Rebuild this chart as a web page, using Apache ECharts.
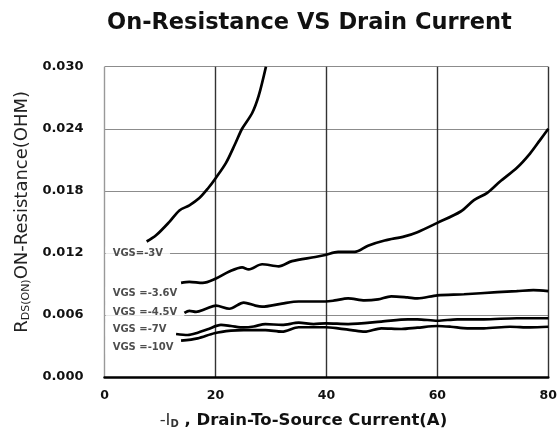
<!DOCTYPE html>
<html>
<head>
<meta charset="utf-8">
<script src="https://cdn.jsdelivr.net/npm/echarts@6/dist/echarts.min.js"></script>
<style>
html,body{margin:0;padding:0;background:#fff;}
#c{width:560px;height:441px;}
</style>
</head>
<body>
<div id="c"></div>
<script>
// ---- data ----
var xTicks = [0, 20, 40, 60, 80];
var yTicks = ['0.000', '0.006', '0.012', '0.018', '0.024', '0.030'];

var id3V  = [7.6, 9.3, 11.7, 13.5, 15.3, 17.1, 18.6, 20.0, 21.9, 23.6, 24.8, 26.6, 27.8, 29.1];
var rds3V = [0.0131, 0.0137, 0.0150, 0.0161, 0.0166, 0.0173, 0.0182, 0.0192, 0.0207, 0.0226, 0.0240, 0.0255, 0.0272, 0.0300];

var id36V  = [13.8, 15.3, 17.7, 20.0, 22.5, 24.8, 26.0, 28.4, 31.4, 33.8, 38.0, 39.8, 42.1, 45.1, 47.5, 50.5, 54.1, 56.4, 60.0, 64.2, 66.6, 69.0, 71.3, 74.3, 76.7, 78.5, 80.0];
var rds36V = [0.0091, 0.0092, 0.0091, 0.0095, 0.0102, 0.0106, 0.0104, 0.0109, 0.0107, 0.0112, 0.0116, 0.0118, 0.0121, 0.0121, 0.0127, 0.0132, 0.0136, 0.0140, 0.0149, 0.0160, 0.0171, 0.0178, 0.0189, 0.0202, 0.0216, 0.0229, 0.0240];

var id45V  = [14.4, 15.3, 16.5, 18.3, 20.1, 22.5, 25.1, 27.2, 28.4, 32.0, 35.0, 39.8, 41.5, 43.9, 46.9, 49.3, 51.7, 54.6, 56.4, 60.0, 64.8, 70.8, 74.3, 77.3, 80.0];
var rds45V = [0.0062, 0.0064, 0.0063, 0.0066, 0.0069, 0.0066, 0.0072, 0.0069, 0.0068, 0.0071, 0.0073, 0.0073, 0.0074, 0.0076, 0.0074, 0.0075, 0.0078, 0.0077, 0.0076, 0.0079, 0.0080, 0.0082, 0.0083, 0.0084, 0.0083];

var id7V  = [12.9, 15.0, 16.8, 18.6, 21.0, 22.8, 25.1, 26.9, 29.0, 32.0, 35.0, 37.7, 39.9, 43.9, 49.9, 54.7, 56.4, 60.0, 63.6, 68.4, 74.3, 80.0];
var rds7V = [0.00416, 0.00406, 0.00428, 0.00461, 0.00503, 0.00493, 0.00479, 0.00488, 0.00512, 0.00503, 0.00525, 0.00512, 0.00519, 0.00512, 0.00535, 0.00558, 0.00558, 0.00544, 0.00558, 0.00558, 0.00568, 0.00568];

var id10V  = [13.8, 16.8, 19.8, 22.8, 25.1, 29.0, 32.0, 35.0, 39.8, 42.1, 44.5, 46.9, 49.9, 53.5, 56.4, 60.0, 62.4, 65.4, 68.4, 73.1, 76.7, 80.0];
var rds10V = [0.00351, 0.00374, 0.00423, 0.00448, 0.00454, 0.00454, 0.00438, 0.00481, 0.00481, 0.00471, 0.00454, 0.00438, 0.00471, 0.00464, 0.00477, 0.00493, 0.00486, 0.00471, 0.00471, 0.00486, 0.00480, 0.00486];

var curveNames = ['VGS=-3V', 'VGS =-3.6V', 'VGS =-4.5V', 'VGS =-7V', 'VGS =-10V'];
var labelX = [0.3, 0.3, 0.3, 0.3, 0.3];
var labelY = [0.0119, 0.0080, 0.0062, 0.00454, 0.00283];

function pairs(xs, ys) { return xs.map(function (x, i) { return [x, ys[i]]; }); }

var curves = [pairs(id3V, rds3V), pairs(id36V, rds36V), pairs(id45V, rds45V), pairs(id7V, rds7V), pairs(id10V, rds10V)];

var FONT = 'DejaVu Sans';
var series = curves.map(function (d, i) {
  return {
    name: curveNames[i], type: 'line', data: d, smooth: 0.3, showSymbol: false, z: 5,
    lineStyle: { color: '#000', width: 2.7 }, silent: true
  };
});
series.push({
  type: 'scatter', z: 3, silent: true, symbolSize: 1,
  itemStyle: { color: 'rgba(0,0,0,0)' },
  data: curveNames.map(function (n, i) { return { value: [labelX[i], labelY[i]], name: n }; }),
  label: {
    show: true, position: [0, 0], align: 'left', verticalAlign: 'middle',
    formatter: function (p) { return p.name; },
    fontFamily: FONT, fontWeight: 'bold', fontSize: 10, color: '#222',
    backgroundColor: '#fff', padding: [2, 7, 2, 7]
  }
});

var chart = echarts.init(document.getElementById('c'), null, { renderer: 'canvas' });
chart.setOption({
  animation: false,
  backgroundColor: '#fff',
  title: {
    text: 'On-Resistance VS Drain Current', left: 102, top: 7,
    textStyle: { fontFamily: FONT, fontWeight: 'bold', fontSize: 22.5, color: '#111' }
  },
  grid: { left: 104.5, right: 8.3, top: 66.7, bottom: 64 },
  xAxis: {
    type: 'value', min: 0, max: 80, interval: 20,
    axisLine: { show: true, lineStyle: { color: '#000', width: 2.5 } },
    axisTick: { show: false },
    splitLine: {
      show: true, showMinLine: true, showMaxLine: true,
      lineStyle: { color: ['#999', '#333', '#333', '#333', '#333'], width: 1.4 }
    },
    axisLabel: {
      margin: 12, fontFamily: FONT, fontWeight: 'bold', fontSize: 12.5, color: '#111',
      formatter: function (v) { return xTicks.indexOf(v) >= 0 ? String(v) : ''; }
    },
    name: '{m|-I}{s|D}{b| , Drain-To-Source Current(A)}',
    nameLocation: 'middle', nameGap: 35,
    nameTextStyle: {
      padding: [0, 46, 0, 0],
      rich: {
        m: { fontFamily: FONT, fontSize: 16.5, color: '#333', verticalAlign: 'bottom' },
        s: { fontFamily: FONT, fontSize: 10, fontWeight: 'bold', color: '#333', verticalAlign: 'bottom' },
        b: { fontFamily: FONT, fontSize: 16.5, fontWeight: 'bold', color: '#111', verticalAlign: 'bottom' }
      }
    }
  },
  yAxis: {
    type: 'value', min: 0, max: 0.030, interval: 0.006,
    axisLine: { show: false },
    axisTick: { show: false },
    splitLine: {
      show: true, showMinLine: true, showMaxLine: true,
      lineStyle: { color: '#8c8c8c', width: 1 }
    },
    axisLabel: {
      margin: 21, fontFamily: FONT, fontWeight: 'bold', fontSize: 13, color: '#111',
      formatter: function (v) { return yTicks[Math.round(v / 0.006)]; }
    },
    name: '{m|R}{s|DS(ON)}{m|ON-Resistance(OHM)}',
    nameLocation: 'middle', nameRotate: 90, nameGap: 70,
    nameTextStyle: {
      padding: [0, 0, 0, 20],
      rich: {
        m: { fontFamily: FONT, fontSize: 18, color: '#222', verticalAlign: 'bottom' },
        s: { fontFamily: FONT, fontSize: 11, color: '#222', verticalAlign: 'bottom' }
      }
    }
  },
  series: series
});
</script>
</body>
</html>
